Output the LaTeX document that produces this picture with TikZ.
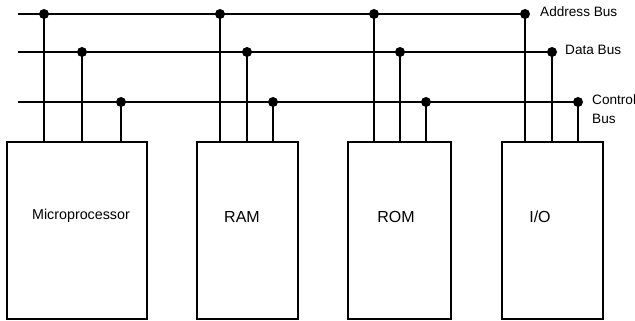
\documentclass[tikz,border=0pt]{standalone}
\usepackage{fontspec}
\setmainfont{Liberation Sans}
\begin{document}
\begin{tikzpicture}[x=1pt,y=-1pt,
  wire/.style={line width=1.9pt},
  busdot/.style={circle,fill=black,inner sep=0pt,minimum size=10pt},
  unit/.style={draw,line width=1.7pt,inner sep=0pt,minimum height=177pt},
  boxtext/.style={font=\fontsize{14.3}{16}\selectfont},
  bigtext/.style={font=\fontsize{16}{18}\selectfont},
  buslabel/.style={anchor=west,inner sep=0pt,font=\fontsize{13.6}{16}\selectfont}]
\useasboundingbox (0,0) rectangle (635,321);
% boxes
\node[unit,minimum width=140pt] (mp) at (77,230.5) {};
\node[unit,minimum width=101pt] (ram) at (247.5,230.5) {};
\node[unit,minimum width=103pt] (rom) at (399.5,230.5) {};
\node[unit,minimum width=101pt] (io) at (552.5,230.5) {};
\node[boxtext] (mpt) at (81,216) {Microprocessor};
\node[bigtext] (ramt) at (242,217) {RAM};
\node[bigtext] (romt) at (396,217) {ROM};
\node[bigtext] (iot) at (540,217) {I/O};
% bus starts
\coordinate (as) at (18,14);
\coordinate (ds) at (18,52);
\coordinate (cs) at (18,102);
% dots
\foreach \n/\a/\d/\c in {mp/44/82/121, ram/220/247/273, rom/374/400/426, io/525/552/578}{
  \node[busdot] (\n a) at (\a,14) {};
  \node[busdot] (\n d) at (\d,52) {};
  \node[busdot] (\n c) at (\c,102) {};
}
% bus lines
\draw[wire] (as) -- (ioa.center);
\draw[wire] (ds) -- (iod.center);
\draw[wire] (cs) -- (ioc.center);
% drops
\foreach \n in {mp,ram,rom,io}{
  \foreach \b in {a,d,c}{
    \draw[wire] (\n\b.center) -- (\n\b.center |- \n.north);
  }
}
% labels
\node[buslabel] (la) at (540,12) {Address Bus};
\node[buslabel] (ld) at (565,50) {Data Bus};
\node[buslabel] (lc) at (592,100) {Control};
\node[buslabel] (lb) at (592,119) {Bus};
\end{tikzpicture}
\end{document}
